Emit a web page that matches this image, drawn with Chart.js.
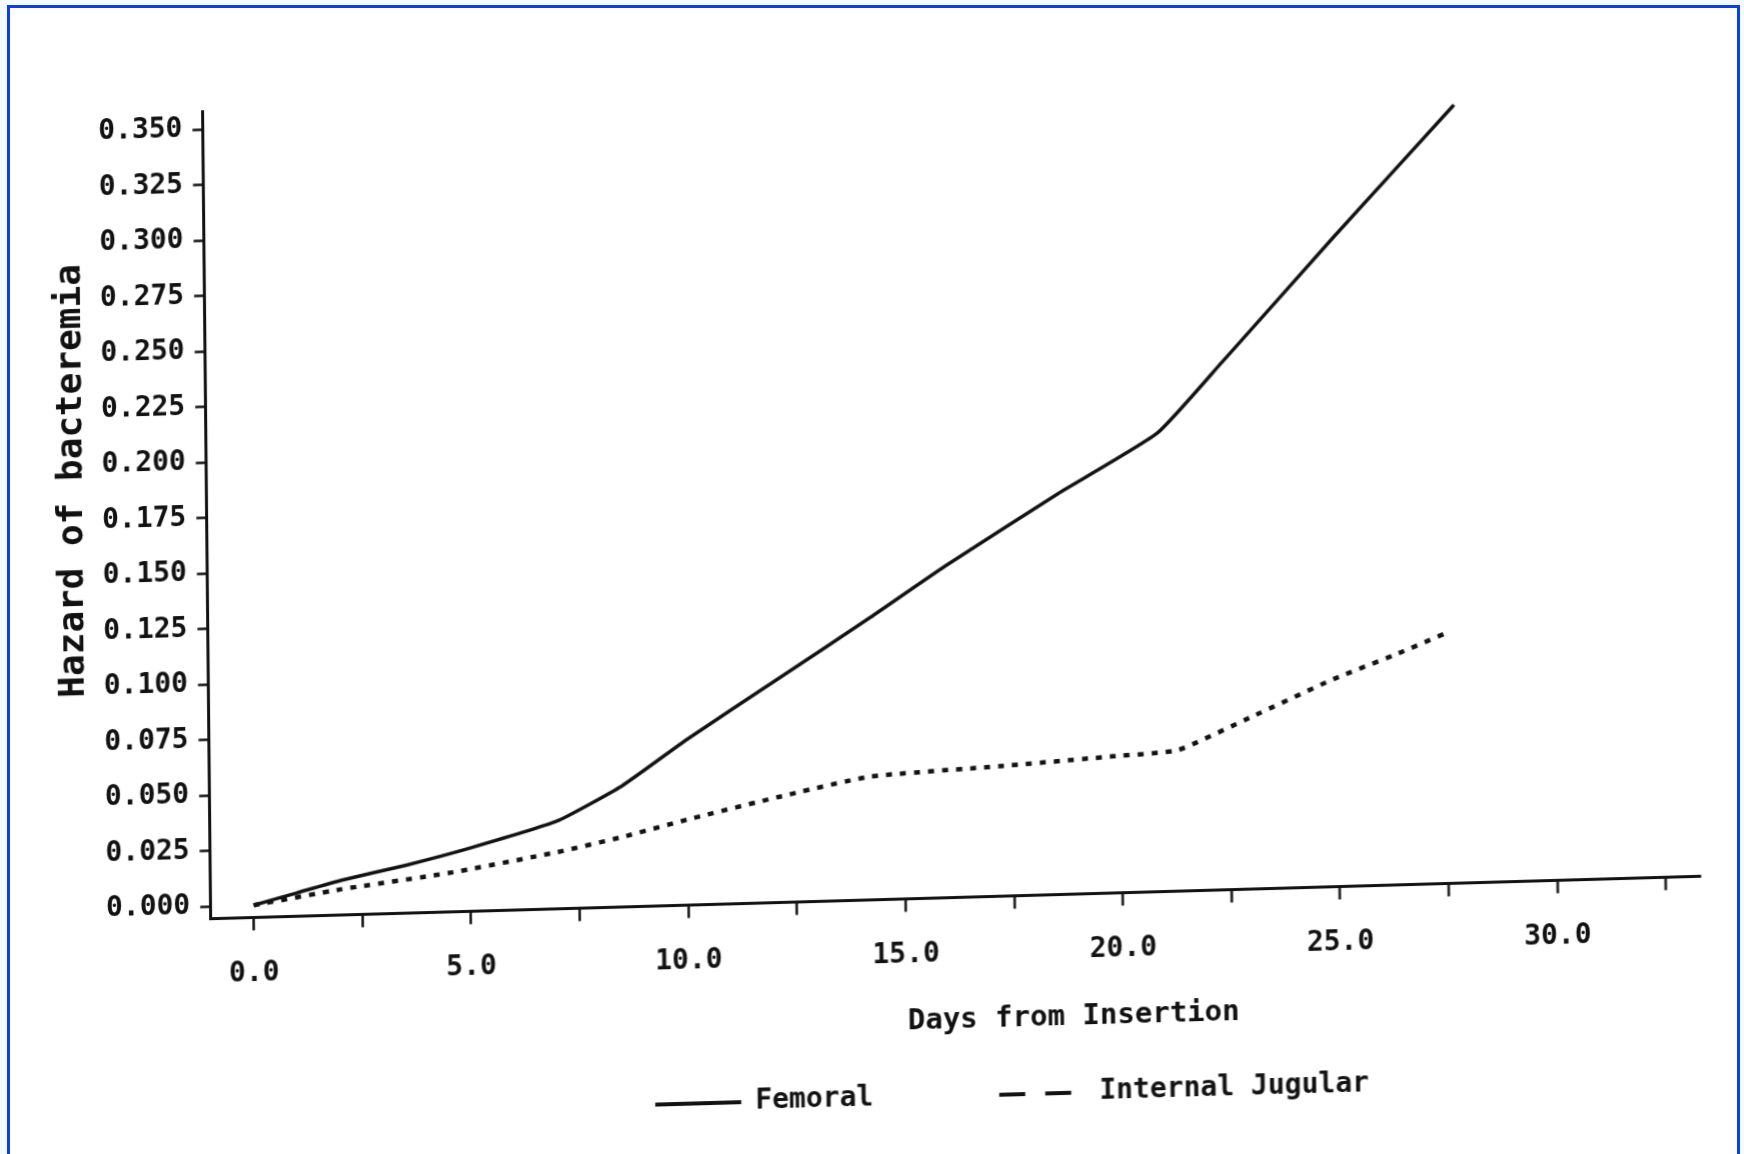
<!DOCTYPE html>
<html>
<head>
<meta charset="utf-8">
<script src="https://cdn.jsdelivr.net/npm/chart.js@4.4.1/dist/chart.umd.min.js"></script>
<style>
html,body{margin:0;padding:0;overflow:hidden;background:#f3fbff;}
#page{position:absolute;left:0;top:0;width:1744px;height:1154px;overflow:hidden;background:#f3fbff;}
#frame{position:absolute;left:7px;top:5px;width:1727px;height:1220px;border:3px solid #0b3fe3;background:#ffffff;}
#c{position:absolute;left:0;top:0;transform-origin:253.6px 905.2px;transform:matrix(1,-0.0285,0.010,1,0,0);}
</style>
</head>
<body>
<div id="page">
  <div id="frame"></div>
  <canvas id="c" width="1744" height="1154"></canvas>
</div>
<script>
// ---- data ----
const femoralDays   = [0, 1, 2, 3.5, 5, 7, 8.5, 10, 12.1, 14.2, 16, 18.6, 20.9, 22.4, 25, 27.8];
const femoralHazard = [0, 0.005, 0.010, 0.016, 0.023, 0.034, 0.049, 0.069, 0.095, 0.121, 0.144, 0.175, 0.201, 0.232, 0.287, 0.345];
const jugularDays   = [0, 2, 4.5, 7, 8.5, 10, 12.1, 14.2, 17.2, 19.8, 21.3, 23, 24.9, 26.3, 27.6];
const jugularHazard = [0, 0.006, 0.012, 0.020, 0.026, 0.033, 0.042, 0.050, 0.053, 0.056, 0.058, 0.072, 0.088, 0.098, 0.108];
const xTicks = [0, 2.5, 5, 7.5, 10, 12.5, 15, 17.5, 20, 22.5, 25, 27.5, 30, 32.5];
const yTicks = [0, 0.025, 0.05, 0.075, 0.1, 0.125, 0.15, 0.175, 0.2, 0.225, 0.25, 0.275, 0.3, 0.325, 0.35];
const seriesNames = ['Femoral', 'Internal Jugular'];
const xTitle = 'Days from Insertion';
const yTitle = 'Hazard of bacteremia';

const FONT = '"DejaVu Sans Mono", "Liberation Mono", monospace';
const INK = '#111111';

const toPoints = (xs, ys) => xs.map((x, i) => ({x: x, y: ys[i]}));

const tweaks = {
  id: 'tweaks',
  beforeDraw(chart) {
    const lg = chart.legend;
    if (lg) {
      const w = 1200, cx = 1010;
      lg.left = cx - w / 2; lg.right = cx + w / 2; lg.width = w;
      lg.top = 976; lg.bottom = 1154; lg.height = lg.bottom - lg.top;
    }
    const shifts = {x: [117, 0], y: [0, -38]};
    Object.keys(shifts).forEach(id => {
      const s = chart.scales[id];
      if (s && !s._shifted) {
        const orig = s.drawTitle;
        const off = shifts[id];
        s.drawTitle = function () {
          const c = this.ctx; c.save(); c.translate(off[0], off[1]); orig.call(this); c.restore();
        };
        s._shifted = true;
      }
    });
  }
};

new Chart(document.getElementById('c'), {
  type: 'line',
  data: {
    datasets: [
      {
        label: seriesNames[0],
        data: toPoints(femoralDays, femoralHazard),
        borderColor: INK, backgroundColor: INK,
        borderWidth: 3.5, pointRadius: 0, tension: 0.15, fill: false
      },
      {
        label: seriesNames[1],
        data: toPoints(jugularDays, jugularHazard),
        borderColor: INK, backgroundColor: INK,
        borderWidth: 4.5, borderDash: [6, 8], pointRadius: 0, tension: 0.15, fill: false
      }
    ]
  },
  options: {
    responsive: false,
    animation: false,
    layout: {padding: {left: 0, right: 43.5, top: 110.4, bottom: 46.6}},
    plugins: {
      tooltip: {enabled: false},
      legend: {
        position: 'bottom',
        maxHeight: 50,
        labels: {
          color: INK,
          font: {family: FONT, size: 28, weight: 'bold'},
          usePointStyle: true,
          pointStyle: 'line',
          pointStyleWidth: 86,
          padding: 126,
          generateLabels(chart) {
            const items = Chart.defaults.plugins.legend.labels.generateLabels(chart);
            items.forEach(it => {
              it.pointStyle = 'line';
              it.lineWidth = 4;
              if (it.datasetIndex === 1) { it.lineDash = [26, 20]; }
            });
            return items;
          }
        }
      }
    },
    scales: {
      x: {
        type: 'linear',
        min: -1.0, max: 33.3,
        afterBuildTicks(scale) { scale.ticks = xTicks.map(v => ({value: v})); },
        afterFit(scale) { scale.height = 140; },
        grid: {display: true, drawOnChartArea: false, drawTicks: true, tickLength: 13, tickWidth: 2.5, tickColor: INK, color: INK},
        border: {display: true, color: INK, width: 3},
        ticks: {
          autoSkip: false, maxRotation: 0, padding: 27, color: INK,
          font: {family: FONT, size: 28, weight: 'bold'},
          callback: v => (Math.abs(v % 5) < 1e-9 ? v.toFixed(1) : '')
        },
        title: {display: true, text: xTitle, color: INK, font: {family: FONT, size: 29, weight: 'bold'}, padding: {top: 0, bottom: 0}}
      },
      y: {
        type: 'linear',
        min: -0.0055, max: 0.358,
        afterBuildTicks(scale) { scale.ticks = yTicks.map(v => ({value: v})); },
        afterFit(scale) { scale.width = 210.2; },
        grid: {display: true, drawOnChartArea: false, drawTicks: true, tickLength: 10, tickWidth: 2.5, tickColor: INK, color: INK},
        border: {display: true, color: INK, width: 3},
        ticks: {
          padding: 10, color: INK,
          font: {family: FONT, size: 28, weight: 'bold'},
          callback: v => v.toFixed(3)
        },
        title: {display: true, text: yTitle, color: INK, font: {family: FONT, size: 36, weight: 'bold'}, padding: {top: 55, bottom: 0}}
      }
    }
  },
  plugins: [tweaks]
});
</script>
</body>
</html>
